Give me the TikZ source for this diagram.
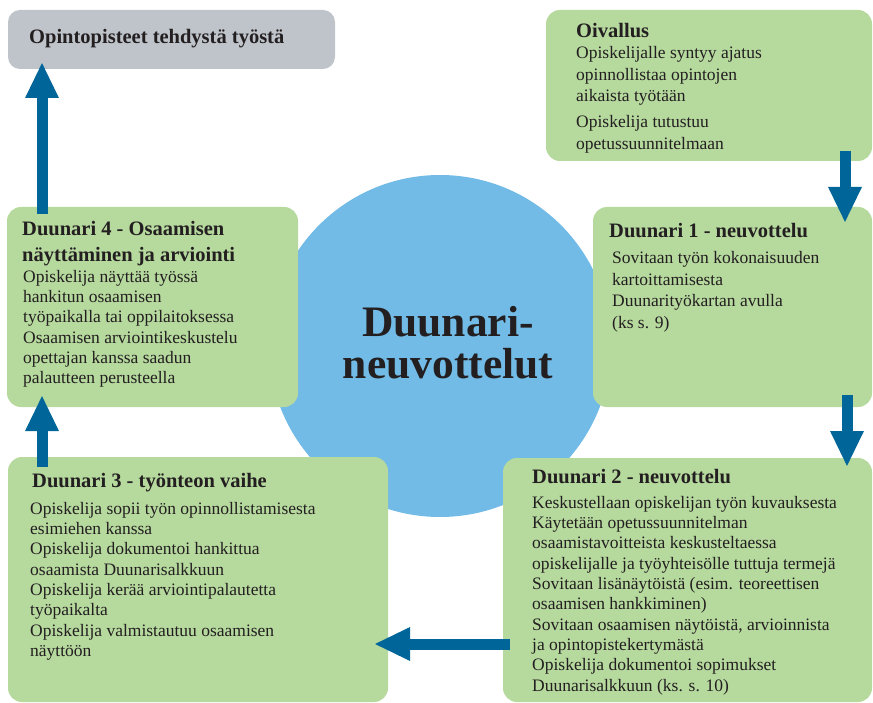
\documentclass[tikz,border=0pt]{standalone}
\usepackage{fontspec}
\setmainfont{Liberation Serif}
\usetikzlibrary{arrows.meta}

\definecolor{boxgreen}{RGB}{182,217,158}
\definecolor{boxgrey}{RGB}{190,196,202}
\definecolor{hubblue}{RGB}{114,187,230}
\definecolor{flowblue}{RGB}{0,102,153}
\definecolor{ink}{RGB}{35,31,32}

\newcommand\headfont{\bfseries\fontsize{20.5}{26.5}\selectfont}
\newcommand\bodyfont{\fontsize{17.5}{20.3}\selectfont}
\newcommand\bodywide{\fontsize{17.5}{21.7}\selectfont}

\begin{document}
\begin{tikzpicture}[x=1pt,y=-1pt,
    box/.style={rounded corners=14pt, fill=boxgreen, anchor=north west, inner sep=0pt, outer sep=0pt},
    head/.style={anchor=north west, inner sep=0pt, align=left, text=ink, font=\headfont},
    body/.style={anchor=north west, inner sep=0pt, align=left, text=ink, font=\bodyfont},
    flow/.style={draw=flowblue, line width=11pt, -{Triangle[length=36pt,width=31pt]}}]
  \useasboundingbox (0,0) rectangle (873,703);

  \node[circle, fill=hubblue, minimum size=342pt, inner sep=0pt] (hub) at (440,346) {};
  \node[align=center, text=ink, font=\bfseries\fontsize{43.5}{42}\selectfont] (hubtext) at (448,343) {Duunari-\\neuvottelut};

  \node[box, fill=boxgrey, rounded corners=12pt, minimum width=327pt, minimum height=59pt] (goal) at (8,10) {};
  \node[box, minimum width=326pt, minimum height=151pt] (oiv) at (546,10) {};
  \node[box, minimum width=279pt, minimum height=200pt] (d1) at (593,207) {};
  \node[box, minimum width=369pt, minimum height=244pt] (d2) at (503,458) {};
  \node[box, minimum width=380pt, minimum height=245pt] (d3) at (8,457) {};
  \node[box, minimum width=291pt, minimum height=200pt] (d4) at (7,207) {};

  \node[head] (goalhead) at ([xshift=21pt,yshift=-19pt]goal.north west) {Opintopisteet tehdystä työstä};

  \node[head] (oivhead) at ([xshift=30pt,yshift=-13pt]oiv.north west) {Oivallus};
  \node[body, font=\bodywide] (oivbody) at ([xshift=30pt,yshift=-36pt]oiv.north west)
    {Opiskelijalle syntyy ajatus\\opinnollistaa opintojen\\aikaista työtään\\[4pt]Opiskelija tutustuu\\opetussuunnitelmaan};

  \node[head] (d1head) at ([xshift=16pt,yshift=-16pt]d1.north west) {Duunari 1 - neuvottelu};
  \node[body, font=\bodywide] (d1body) at ([xshift=19pt,yshift=-44pt]d1.north west)
    {Sovitaan työn kokonaisuuden\\kartoittamisesta\\Duunarityökartan avulla\\(ks s. 9)};

  \node[head] (d2head) at ([xshift=29pt,yshift=-11pt]d2.north west) {Duunari 2 - neuvottelu};
  \node[body] (d2body) at ([xshift=29pt,yshift=-38pt]d2.north west)
    {Keskustellaan opiskelijan työn kuvauksesta\\Käytetään opetussuunnitelman\\osaamistavoitteista keskusteltaessa\\opiskelijalle ja työyhteisölle tuttuja termejä\\Sovitaan lisänäytöistä (esim. teoreettisen\\osaamisen hankkiminen)\\Sovitaan osaamisen näytöistä, arvioinnista\\ja opintopistekertymästä\\Opiskelija dokumentoi sopimukset\\Duunarisalkkuun (ks. s. 10)};

  \node[head] (d3head) at ([xshift=24pt,yshift=-16pt]d3.north west) {Duunari 3 - työnteon vaihe};
  \node[body] (d3body) at ([xshift=22pt,yshift=-45pt]d3.north west)
    {Opiskelija sopii työn opinnollistamisesta\\esimiehen kanssa\\Opiskelija dokumentoi hankittua\\osaamista Duunarisalkkuun\\Opiskelija kerää arviointipalautetta\\työpaikalta\\Opiskelija valmistautuu osaamisen\\näyttöön};

  \node[head] (d4head) at ([xshift=15pt,yshift=-14pt]d4.north west) {Duunari 4 - Osaamisen\\näyttäminen ja arviointi};
  \node[body] (d4body) at ([xshift=16pt,yshift=-63pt]d4.north west)
    {Opiskelija näyttää työssä\\hankitun osaamisen\\työpaikalla tai oppilaitoksessa\\Osaamisen arviointikeskustelu\\opettajan kanssa saadun\\palautteen perusteella};

  \draw[flow] ([xshift=-27pt,yshift=10pt]oiv.south east) -- ([xshift=-27pt,yshift=-16pt]d1.north east);
  \draw[flow] ([xshift=-25pt,yshift=12pt]d1.south east) -- ([xshift=-25pt,yshift=-9pt]d2.north east);
  \draw[flow] ([xshift=7pt,yshift=58pt]d2.south west) -- ([xshift=-14pt,yshift=58pt]d3.south east);
  \draw[flow] ([xshift=34pt,yshift=-10pt]d3.north west) -- ([xshift=35pt,yshift=12pt]d4.south west);
  \draw[flow] ([xshift=35pt,yshift=-7pt]d4.north west) -- ([xshift=34pt,yshift=7pt]goal.south west);
\end{tikzpicture}
\end{document}
